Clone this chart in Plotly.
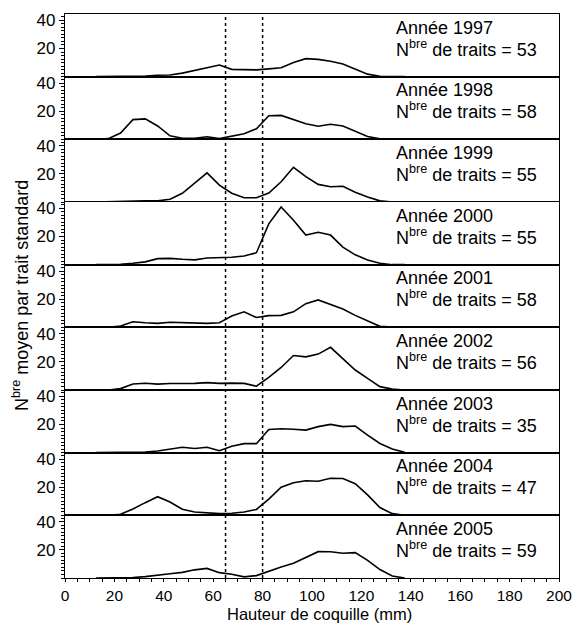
import plotly.graph_objects as go
from plotly.subplots import make_subplots

# Shell height classes (mm), bin midpoints
hauteur = [12.5, 17.5, 22.5, 27.5, 32.5, 37.5, 42.5, 47.5, 52.5, 57.5, 62.5, 67.5, 72.5,
           77.5, 82.5, 87.5, 92.5, 97.5, 102.5, 107.5, 112.5, 117.5, 122.5, 127.5, 132.5, 137.5]

annees = [1997, 1998, 1999, 2000, 2001, 2002, 2003, 2004, 2005]
nb_traits = [53, 58, 55, 55, 58, 56, 35, 47, 59]

n_1997 = [0, 0, 0, 0.2, 0.5, 1.0, 1.2, 2.5, 4.5, 6.5, 8.3, 5.2, 4.8,
          4.8, 5.5, 6.3, 10, 12.8, 12.3, 11, 9, 5.5, 1.8, 0.3, 0, 0]
n_1998 = [0, 0.5, 4.5, 14, 14.5, 9.5, 2.5, 0.8, 0.8, 1.8, 0.5, 2.2, 4,
          7.5, 16.8, 17, 14, 11, 9.3, 10.7, 9.5, 5.5, 2, 0.3, 0, 0]
n_1999 = [0, 0.2, 0.3, 1, 0.8, 0.8, 1.9, 6.2, 13.3, 20.7, 12, 6.2, 3,
          3, 6.4, 14.4, 24.6, 18, 12.5, 10.8, 11.2, 7, 3.5, 0.8, 0, 0]
n_2000 = [0, 0, 0.3, 1, 2, 4.3, 4.5, 3.8, 3.4, 4.7, 4.8, 5.3, 6.2,
          8.5, 29, 41, 31.5, 21, 23, 21, 12.5, 7, 3.3, 1, 0, 0]
n_2001 = [0, 0, 1, 4, 3.3, 2.8, 3.6, 3.2, 2.8, 2.8, 3.2, 8, 11,
          7, 8.3, 8.5, 11, 16.8, 19.5, 16, 13, 8.5, 4.5, 0.7, 0.2, 0]
n_2002 = [0, 0, 1, 4.3, 4.8, 4.2, 4.6, 4.6, 4.7, 5.2, 4.7, 4.9, 4.7,
          2.7, 9, 16, 24.5, 23.5, 25.5, 30.3, 22.3, 14.2, 8.3, 2.4, 0.6, 0]
n_2003 = [0, 0, 0, 0, 0.5, 1.2, 2.6, 3.8, 3, 3.8, 1.4, 4.5, 6.4,
          6.4, 16.5, 17, 16.6, 16, 18.5, 20.1, 18.5, 18.9, 12.5, 6.5, 2.6, 0.3]
n_2004 = [0, 0, 0.8, 4.5, 9, 13.2, 9.5, 4.3, 2.4, 1.8, 1.2, 1.5, 2.4,
          4.2, 11.5, 20, 23.2, 24.6, 24.2, 26.3, 26.2, 22.5, 14.5, 5.5, 1.2, 0]
n_2005 = [0, 0, 0, 0.3, 1, 1.8, 3, 4, 5.8, 6.8, 3.8, 2.7, 0.8,
          1.7, 5, 7.8, 10.5, 14.7, 18.7, 18.6, 17.6, 18, 12.5, 6, 1.4, 0]

series = [n_1997, n_1998, n_1999, n_2000, n_2001, n_2002, n_2003, n_2004, n_2005]

# Size limits marked across all panels (mm)
limites = [65, 80]

FONT = "Arial, Liberation Sans, sans-serif"
n = len(annees)

fig = make_subplots(rows=n, cols=1, shared_xaxes=True, vertical_spacing=0)

for i, (an, nt, vals) in enumerate(zip(annees, nb_traits, series), start=1):
    fig.add_trace(go.Scatter(x=hauteur, y=vals, mode="lines",
                             line=dict(color="black", width=1.6),
                             showlegend=False, hoverinfo="skip"),
                  row=i, col=1)
    fig.update_yaxes(range=[0, 44.5], tickvals=[20, 40], ticks="outside",
                     ticklen=5, tickwidth=1.2, tickcolor="black",
                     minor=dict(dtick=2.5, tick0=0, ticks="outside", ticklen=3,
                                tickwidth=1, tickcolor="black"),
                     showline=True, mirror=True, linecolor="black", linewidth=1.4,
                     showgrid=False, zeroline=False, automargin=False,
                     tickfont=dict(family=FONT, size=17, color="black"),
                     row=i, col=1)
    last = (i == n)
    fig.update_xaxes(range=[0, 200], showline=True, mirror=True,
                     linecolor="black", linewidth=1.4,
                     showgrid=False, zeroline=False, automargin=False,
                     showticklabels=last, ticks="outside" if last else "",
                     dtick=20, tick0=0, ticklen=3, tickwidth=1.2, tickcolor="black",
                     minor=dict(dtick=5, tick0=0, ticks="outside" if last else "",
                                ticklen=2.5, tickwidth=1, tickcolor="black"),
                     tickfont=dict(family=FONT, size=15.5, color="black"),
                     row=i, col=1)

    xr = "x" if i == 1 else f"x{i}"
    yr = ("y" if i == 1 else f"y{i}") + " domain"
    fig.add_annotation(x=133, y=0.78, xref=xr, yref=yr, xanchor="left", yanchor="middle",
                       text=f"Année {an}", showarrow=False,
                       font=dict(family=FONT, size=18, color="black"))
    fig.add_annotation(x=133, y=0.455, xref=xr, yref=yr, xanchor="left", yanchor="middle",
                       text=f"N<sup>bre</sup> de traits = {nt}",
                       showarrow=False,
                       font=dict(family=FONT, size=18, color="black"))

for xv in limites:
    fig.add_shape(type="line", xref=f"x{n}", yref="paper", x0=xv, x1=xv, y0=0, y1=1,
                  line=dict(color="black", width=1.5, dash="dot"))

fig.add_annotation(x=-0.091, y=0.5, xref="paper", yref="paper", textangle=-90,
                   xanchor="center", yanchor="middle", showarrow=False,
                   text="N<sup>bre</sup> moyen par trait standard",
                   font=dict(family=FONT, size=18, color="black"))
fig.add_annotation(x=0.515, y=-0.0816, xref="paper", yref="paper",
                   xanchor="center", yanchor="bottom", showarrow=False,
                   text="Hauteur de coquille (mm)", borderpad=0,
                   font=dict(family=FONT, size=16.5, color="black"))

fig.update_layout(width=575, height=624, margin=dict(l=65, r=16, t=14, b=46, autoexpand=False),
                  paper_bgcolor="white", plot_bgcolor="white",
                  font=dict(family=FONT, color="black"))

fig.write_html("out.html")
